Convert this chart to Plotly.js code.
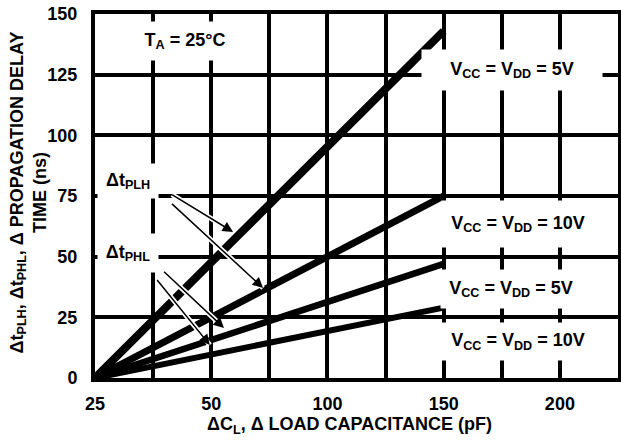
<!DOCTYPE html>
<html><head><meta charset="utf-8">
<script src="https://cdn.plot.ly/plotly-3.0.1.min.js"></script>
<style>html,body{margin:0;padding:0;background:#fff}</style>
</head><body><div id="chart" style="width:621px;height:440px"></div>
<script>
// Grid divisions of the (non-uniform) capacitance axis, in pF
const gridCapacitance = [25, 37.5, 50, 75, 100, 125, 150, 175, 200, 225];
const xTickText = ['25', '', '50', '', '100', '', '150', '', '200', ''];
const yTickVals = [0, 25, 50, 75, 100, 125, 150];

// Series: delta load capacitance (pF) vs delta propagation delay (ns)
const capacitance = [25, 150];
const tPLH_5V = [0, 143];
const tPLH_10V = [0, 75];
const tPHL_5V = [0, 47];
const tPHL_10V = [0, 29];

// map pF onto the chart's grid-division scale
function pos(c) {
  for (let i = 0; i < gridCapacitance.length - 1; i++) {
    const a = gridCapacitance[i], b = gridCapacitance[i + 1];
    if (c <= b) return i + (c - a) / (b - a);
  }
  return gridCapacitance.length - 1;
}

const FONT = 'Liberation Sans, Arial, Helvetica, sans-serif';
const xs = capacitance.map(pos);
function line(y, w) {
  return {x: xs, y: y, mode: 'lines', line: {color: '#000', width: w}, hoverinfo: 'skip', showlegend: false};
}
const data = [line(tPLH_5V, 8), line(tPLH_10V, 7), line(tPHL_5V, 6.5), line(tPHL_10V, 6)];

const annotations = [];
function box(text, c, v, w, h) {
  annotations.push({x: pos(c), y: v, xref: 'x', yref: 'y', text: text, showarrow: false,
    bgcolor: '#fff', width: w, height: h, align: 'center', valign: 'middle', borderpad: 0,
    font: {family: FONT, size: 18, weight: 'bold', color: '#000'}});
}
function arrow(c0, v0, c1, v1) {
  const base = {x: pos(c1), y: v1, ax: pos(c0), ay: v0, xref: 'x', yref: 'y', axref: 'x', ayref: 'y',
    text: ' ', showarrow: true, standoff: 0, startstandoff: 0};
  annotations.push(Object.assign({}, base, {arrowcolor: '#fff', arrowwidth: 5, arrowhead: 0}));
  annotations.push(Object.assign({}, base, {arrowcolor: '#000', arrowwidth: 1.5, arrowhead: 2, arrowsize: 1.4}));
}
arrow(40.7, 76.6, 59.4, 60.2);
arrow(40.7, 73.3, 72.3, 37.1);
arrow(39.0, 45.3, 55.5, 20.6);
arrow(37.5, 42.4, 49.7, 13.6);

box('T<sub>A</sub> = 25°C', 44.4, 138.9, 100, 38);
box('V<sub>CC</sub> = V<sub>DD</sub> = 5V', 179.4, 126.9, 180, 40);
box('V<sub>CC</sub> = V<sub>DD</sub> = 10V', 182, 63.5, 152, 46);
box('V<sub>CC</sub> = V<sub>DD</sub> = 5V', 179, 36.7, 140, 38);
box('V<sub>CC</sub> = V<sub>DD</sub> = 10V', 182, 15.2, 152, 37);
box('Δt<sub>PLH</sub>', 32.1, 81.2, 60, 34);
box('Δt<sub>PHL</sub>', 32.1, 51.5, 60, 38);

// axis titles
annotations.push({xref: 'paper', yref: 'paper', x: -0.128, y: 0.51, xanchor: 'center', yanchor: 'middle',
  textangle: -90, showarrow: false, align: 'center',
  text: 'Δt<sub>PLH</sub>, Δt<sub>PHL</sub>, Δ PROPAGATION DELAY<br>TIME (ns)',
  font: {family: FONT, size: 18, weight: 'bold', color: '#000'}});
annotations.push({xref: 'paper', yref: 'paper', x: 0.486, y: -0.13, xanchor: 'center', yanchor: 'middle',
  showarrow: false, text: 'ΔC<sub>L</sub>, Δ LOAD CAPACITANCE (pF)',
  font: {family: FONT, size: 18, weight: 'bold', color: '#000'}});

const layout = {
  width: 621, height: 440,
  margin: {l: 95, r: 3, t: 14, b: 62, pad: 0},
  paper_bgcolor: '#fff', plot_bgcolor: '#fff',
  showlegend: false,
  font: {family: FONT, size: 18, weight: 'bold', color: '#000'},
  xaxis: {
    range: [0, gridCapacitance.length - 1],
    tickmode: 'array', tickvals: gridCapacitance.map(pos), ticktext: xTickText,
    showgrid: true, gridcolor: '#000', gridwidth: 4,
    showline: true, linecolor: '#000', linewidth: 4, mirror: true,
    zeroline: false, ticks: '', ticklabelstandoff: 6,
    tickfont: {family: FONT, size: 18, weight: 'bold', color: '#000'}
  },
  yaxis: {
    range: [0, 150],
    tickmode: 'array', tickvals: yTickVals,
    showgrid: true, gridcolor: '#000', gridwidth: 4,
    showline: true, linecolor: '#000', linewidth: 4, mirror: true,
    zeroline: false, ticks: '', ticklabelstandoff: 10,
    tickfont: {family: FONT, size: 18, weight: 'bold', color: '#000'}
  },
  annotations: annotations
};

Plotly.newPlot('chart', data, layout, {displayModeBar: false, staticPlot: true});
</script>
</body></html>
